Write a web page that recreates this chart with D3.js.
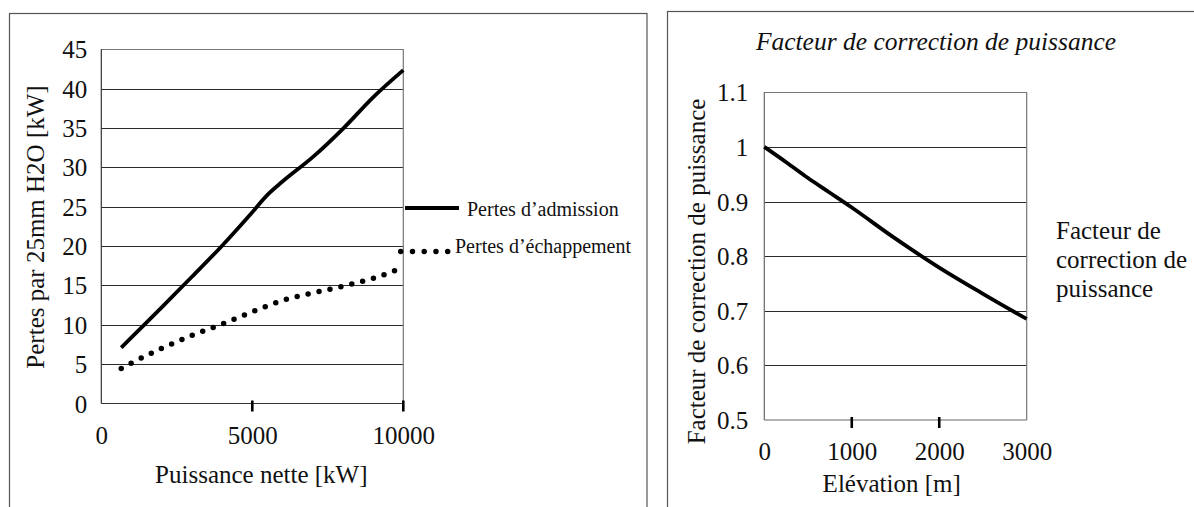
<!DOCTYPE html>
<html>
<head>
<meta charset="utf-8">
<script src="https://cdn.jsdelivr.net/npm/d3@7"></script>
<style>
  html, body { margin: 0; padding: 0; background: #fff; }
  svg, svg text { font-family: "Liberation Serif", "Times New Roman", "DejaVu Serif", serif; }
</style>
</head>
<body>
<svg id="chart" width="1194" height="507"></svg>
<script>
// Left panel: pressure losses vs net power
const powerKW        = [660, 1000, 2000, 3000, 4000, 5000, 5500, 6000, 7000, 8000, 9000, 10000];
const intakeLoss     = [7.1, 8.4, 12.2, 16.1, 20.05, 24.3, 26.5, 28.2, 31.3, 34.9, 38.9, 42.35];
const exhaustLoss    = [4.45, 5.15, 7.0, 8.65, 10.1, 11.65, 12.4, 13.1, 14.05, 14.9, 15.9, 17.3];
const lossTicks      = [0, 5, 10, 15, 20, 25, 30, 35, 40, 45];
const powerTicks     = [0, 5000, 10000];
const powerTickMarks = [5000, 10000];

// Right panel: power correction factor vs elevation
const elevationM        = [0, 250, 500, 750, 1000, 1500, 2000, 2500, 3000];
const correctionFactor  = [1.0, 0.972, 0.943, 0.916, 0.889, 0.832, 0.779, 0.731, 0.685];
const factorTicks       = [0.5, 0.6, 0.7, 0.8, 0.9, 1.0, 1.1];
const factorTickLabels  = ["0.5", "0.6", "0.7", "0.8", "0.9", "1", "1.1"];
const elevationTicks    = [0, 1000, 2000, 3000];
const elevationTickMarks = [1000, 2000];

const SERIF = '"Liberation Serif", "Times New Roman", "DejaVu Serif", serif';
const FS = 25;

const svg = d3.select("#chart");
svg.append("rect").attr("width", 1194).attr("height", 507).attr("fill", "#fff");

// Panel frames
svg.append("rect").attr("x", 9.5).attr("y", 13.5).attr("width", 637.5).attr("height", 520)
  .attr("fill", "none").attr("stroke", "#555").attr("stroke-width", 1.2);
svg.append("rect").attr("x", 667.5).attr("y", 11.5).attr("width", 560).attr("height", 520)
  .attr("fill", "none").attr("stroke", "#555").attr("stroke-width", 1.2);

function panel(cfg) {
  const { x, y } = cfg;
  const [x0, x1] = x.range();
  const [yb, yt] = y.range();
  const g = svg.append("g");

  // gridlines
  g.selectAll("line.grid").data(cfg.yTicks.filter(v => v !== y.domain()[0]))
    .join("line").attr("class", "grid")
    .attr("x1", x0).attr("x2", x1)
    .attr("y1", d => Math.round(y(d)) + 0.5).attr("y2", d => Math.round(y(d)) + 0.5)
    .attr("stroke", "#2a2a2a").attr("stroke-width", 1);

  // plot box (top and right sides lighter)
  g.append("line").attr("x1", x0).attr("x2", x1).attr("y1", Math.round(yt) + 0.5).attr("y2", Math.round(yt) + 0.5)
    .attr("stroke", "#777").attr("stroke-width", 1.2);
  g.append("line").attr("x1", x1).attr("x2", x1).attr("y1", yt).attr("y2", yb)
    .attr("stroke", "#777").attr("stroke-width", 1.2);
  g.append("line").attr("x1", x0).attr("x2", x0).attr("y1", yt).attr("y2", yb)
    .attr("stroke", cfg.axisColor).attr("stroke-width", 1.2);
  g.append("line").attr("x1", x0).attr("x2", x1).attr("y1", yb).attr("y2", yb)
    .attr("stroke", cfg.axisColor).attr("stroke-width", 1.2);

  // y tick labels
  const ya = g.append("g").attr("transform", `translate(${x0},0)`)
    .call(d3.axisLeft(y).tickValues(cfg.yTicks).tickFormat((d, i) => cfg.yLabels[i])
      .tickSize(0).tickPadding(cfg.yPad));
  ya.attr("font-family", null).attr("font-size", null).style("font-family", SERIF);
  ya.select(".domain").remove();
  ya.selectAll("text").style("font-family", SERIF).attr("font-size", FS).attr("fill", "#111")
    .attr("dy", "0.34em");

  // x tick labels
  const xa = g.append("g").attr("transform", `translate(0,${yb})`)
    .call(d3.axisBottom(x).tickValues(cfg.xTicks).tickFormat(d3.format("d")).tickSize(0).tickPadding(cfg.xPad));
  xa.attr("font-family", null).attr("font-size", null).style("font-family", SERIF);
  xa.select(".domain").remove();
  xa.selectAll("text").style("font-family", SERIF).attr("font-size", FS).attr("fill", "#111");

  // short heavy tick marks
  g.selectAll("line.tm").data(cfg.xTickMarks).join("line").attr("class", "tm")
    .attr("x1", d => x(d)).attr("x2", d => x(d))
    .attr("y1", yb - 3).attr("y2", yb + 8)
    .attr("stroke", "#000").attr("stroke-width", 2.6);
  return g;
}

// ---------- Left panel ----------
const xL = d3.scaleLinear([0, 10000], [101.3, 403.3]);
const yL = d3.scaleLinear([0, 45], [403.5, 49.3]);
panel({ x: xL, y: yL, yTicks: lossTicks, yLabels: lossTicks.map(String),
        xTicks: powerTicks, xTickMarks: powerTickMarks, yPad: 14, xPad: 23, axisColor: "#333" });

const lineL = d3.line().curve(d3.curveMonotoneX);
svg.append("path")
  .attr("d", lineL(powerKW.map((p, i) => [xL(p), yL(intakeLoss[i])])))
  .attr("fill", "none").attr("stroke", "#000").attr("stroke-width", 3.8);
svg.append("path")
  .attr("d", lineL(powerKW.map((p, i) => [xL(p), yL(exhaustLoss[i])])))
  .attr("fill", "none").attr("stroke", "#000").attr("stroke-width", 5.5)
  .attr("stroke-linecap", "round").attr("stroke-dasharray", "0 11.2");

// legend
svg.append("line").attr("x1", 405).attr("x2", 459).attr("y1", 208).attr("y2", 208)
  .attr("stroke", "#000").attr("stroke-width", 4);
svg.append("text").attr("x", 467).attr("y", 216).attr("font-size", 20).attr("fill", "#111")
  .text("Pertes d’admission");
svg.append("line").attr("x1", 400.7).attr("x2", 448).attr("y1", 251.5).attr("y2", 251.5)
  .attr("stroke", "#000").attr("stroke-width", 5.5)
  .attr("stroke-linecap", "round").attr("stroke-dasharray", "0 11.75");
svg.append("text").attr("x", 455).attr("y", 253).attr("font-size", 20).attr("fill", "#111")
  .text("Pertes d’échappement");

// axis titles
svg.append("text").attr("x", 261.3).attr("y", 482.5).attr("text-anchor", "middle")
  .attr("font-size", FS).attr("fill", "#111").text("Puissance nette [kW]");
svg.append("text").attr("transform", "translate(43.5,227) rotate(-90)").attr("text-anchor", "middle")
  .attr("font-size", FS).attr("fill", "#111").text("Pertes par 25mm H2O [kW]");

// ---------- Right panel ----------
const xR = d3.scaleLinear([0, 3000], [764.3, 1026.7]);
const yR = d3.scaleLinear([0.5, 1.1], [420, 92.3]);
panel({ x: xR, y: yR, yTicks: factorTicks, yLabels: factorTickLabels,
        xTicks: elevationTicks, xTickMarks: elevationTickMarks, yPad: 16, xPad: 22, axisColor: "#666" });

svg.append("path")
  .attr("d", d3.line().curve(d3.curveMonotoneX)(elevationM.map((e, i) => [xR(e), yR(correctionFactor[i])])))
  .attr("fill", "none").attr("stroke", "#000").attr("stroke-width", 3.8);

svg.append("text").attr("x", 936).attr("y", 50).attr("text-anchor", "middle")
  .attr("font-size", 25.5).attr("font-style", "italic").attr("fill", "#111")
  .text("Facteur de correction de puissance");
svg.append("text").attr("x", 891.7).attr("y", 491.7).attr("text-anchor", "middle")
  .attr("font-size", FS).attr("fill", "#111").text("Elévation [m]");
svg.append("text").attr("transform", "translate(705,271.5) rotate(-90)").attr("text-anchor", "middle")
  .attr("font-size", FS).attr("fill", "#111").text("Facteur de correction de puissance");

const legendR = svg.append("text").attr("x", 1056).attr("y", 239.3).attr("font-size", FS).attr("fill", "#111");
["Facteur de", "correction de", "puissance"].forEach((t, i) =>
  legendR.append("tspan").attr("x", 1056).attr("dy", i === 0 ? 0 : 28.7).text(t));
</script>
</body>
</html>
